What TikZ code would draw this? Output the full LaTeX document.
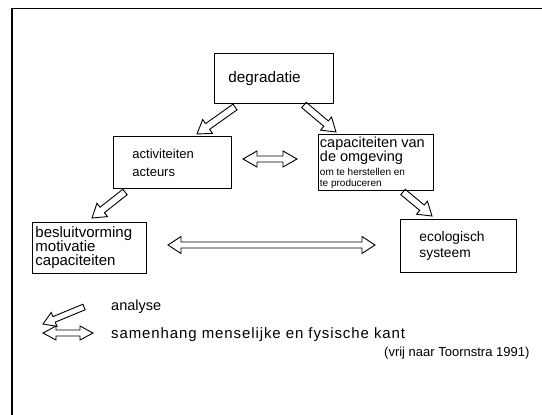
\documentclass[tikz,border=0pt]{standalone}
\usepackage{fontspec}
\setmainfont{Liberation Sans}
\usetikzlibrary{calc}
\tikzset{
  ba shaft/.store in=\baW, ba head/.store in=\baH, ba len/.store in=\baL,
  ba shaft=3.5, ba head=8.5, ba len=13,
  outline/.style={draw=black, line width=0.9pt, line join=miter},
  box/.style={outline, anchor=north west, inner ysep=0pt, align=flush left,
    execute at begin node={\lineskiplimit=-30pt}},
  singlearrow/.style={outline, to path={
    let \p1=(\tikztostart), \p2=(\tikztotarget),
        \n1={atan2(\y2-\y1,\x2-\x1)}, \n2={veclen(\x2-\x1,\y2-\y1)}, \n3={\n2-\baL} in
    ($(\p1)+(\n1+90:\baW)$) -- ($(\p1)+(\n1:\n3)+(\n1+90:\baW)$)
    -- ($(\p1)+(\n1:\n3)+(\n1+90:\baH)$) -- (\p2)
    -- ($(\p1)+(\n1:\n3)+(\n1-90:\baH)$) -- ($(\p1)+(\n1:\n3)+(\n1-90:\baW)$)
    -- ($(\p1)+(\n1-90:\baW)$) -- cycle}},
  doublearrow/.style={outline, to path={
    let \p1=(\tikztostart), \p2=(\tikztotarget),
        \n1={atan2(\y2-\y1,\x2-\x1)}, \n2={veclen(\x2-\x1,\y2-\y1)}, \n3={\n2-\baL} in
    (\p1) -- ($(\p1)+(\n1:\baL)+(\n1+90:\baH)$) -- ($(\p1)+(\n1:\baL)+(\n1+90:\baW)$)
    -- ($(\p1)+(\n1:\n3)+(\n1+90:\baW)$) -- ($(\p1)+(\n1:\n3)+(\n1+90:\baH)$) -- (\p2)
    -- ($(\p1)+(\n1:\n3)+(\n1-90:\baH)$) -- ($(\p1)+(\n1:\n3)+(\n1-90:\baW)$)
    -- ($(\p1)+(\n1:\baL)+(\n1-90:\baW)$) -- ($(\p1)+(\n1:\baL)+(\n1-90:\baH)$) -- cycle}},
  legendtext/.style={anchor=base west, inner sep=0pt},
}
\begin{document}
\begin{tikzpicture}[x=1pt,y=1pt]
  \useasboundingbox[fill=white] (0,0) rectangle (542,-415);
  % frame
  \coordinate (fbl) at (12,-415);
  \coordinate (ftl) at (12,-8.6);
  \coordinate (ftr) at (542,-8.6);
  \draw[line width=1.3pt] (fbl) -- (ftl) -- (ftr);

  % boxes
  \node[box, inner xsep=14pt, text width=91pt, minimum height=50pt,
        font=\fontsize{15.3}{15}\selectfont] (deg) at (214,-53) {\raisebox{-3pt}{degradatie}};
  \node[box, inner xsep=19pt, text width=80pt, minimum height=52pt,
        font=\fontsize{13}{18}\selectfont] (act) at (113,-136) {activiteiten\\acteurs};
  \node[box, inner xsep=1.5pt, text width=112pt, minimum height=56pt,
        font=\fontsize{14.5}{11}\selectfont] (cap) at (318,-134)
        {capaciteiten van\\[3pt]de omgeving\\[3pt]\fontsize{10}{11}\selectfont om te herstellen en\\te produceren};
  \node[box, inner xsep=3pt, text width=108pt, minimum height=51pt,
        font=\fontsize{15}{14}\selectfont] (bes) at (32,-222) {besluitvorming\\motivatie\\capaciteiten};
  \node[box, inner xsep=19pt, text width=78pt, minimum height=53pt,
        font=\fontsize{13.8}{16}\selectfont] (eco) at (400,-219) {ecologisch\\systeem};

  % arrow end points
  \coordinate (a1s) at (235,-107);  \coordinate (a1e) at (197,-134);
  \coordinate (a2s) at (304,-105);  \coordinate (a2e) at (336,-132);
  \coordinate (a3s) at (125,-192);  \coordinate (a3e) at (92,-218);
  \coordinate (a4s) at (403,-192);  \coordinate (a4e) at (432,-216);
  \coordinate (d1s) at (243,-159);  \coordinate (d1e) at (297,-159);
  \coordinate (d2s) at (168,-245);  \coordinate (d2e) at (375,-245);
  \coordinate (l1s) at (84,-307);   \coordinate (l1e) at (43,-324);
  \coordinate (l2s) at (43,-333);   \coordinate (l2e) at (93,-333);

  \draw[singlearrow] (a1s) to (a1e);
  \draw[singlearrow] (a2s) to (a2e);
  \draw[singlearrow] (a3s) to (a3e);
  \draw[singlearrow] (a4s) to (a4e);
  \draw[doublearrow, ba shaft=3, ba head=8, ba len=14] (d1s) to (d1e);
  \draw[doublearrow, ba shaft=3, ba head=8.5, ba len=13] (d2s) to (d2e);
  \draw[singlearrow, ba shaft=3, ba head=7.5, ba len=12] (l1s) to (l1e);
  \draw[doublearrow, ba shaft=3, ba head=7, ba len=13] (l2s) to (l2e);

  % legend
  \node[legendtext, font=\fontsize{14.5}{14.5}\selectfont] (lan) at (111,-310) {analyse};
  \node[legendtext, font=\fontsize{15}{15}\selectfont\addfontfeature{LetterSpace=6}] (lsa) at (111,-338) {samenhang menselijke en fysische kant};
  \node[legendtext, font=\fontsize{13}{13}\selectfont] (lsrc) at (384,-356) {(vrij naar Toornstra 1991)};
\end{tikzpicture}
\end{document}
